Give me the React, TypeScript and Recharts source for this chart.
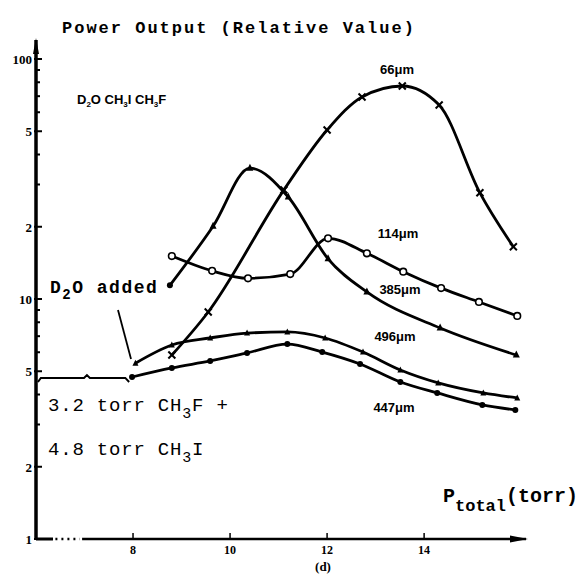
import React from "react"
import { LineChart, Line, XAxis, YAxis, ReferenceLine, ReferenceDot } from "recharts"

// before D2O was added (brace-like flat run)
const baseP = [6.04, 6.1, 6.99, 7.05, 7.11, 7.84, 7.92]
const baseV = [4.51, 4.69, 4.69, 4.82, 4.69, 4.69, 4.51]

const p66 = [8.8, 9.55, 11.11, 12.0, 12.72, 13.55, 14.31, 15.15, 15.84]
const v66 = [5.84, 8.83, 28.5, 50.6, 69.5, 77.2, 64.3, 27.7, 16.5]

const p114 = [8.8, 9.63, 10.37, 11.24, 12.02, 12.82, 13.57, 14.35, 15.13, 15.92]
const v114 = [15.1, 13.1, 12.2, 12.7, 17.9, 15.5, 13.0, 11.1, 9.72, 8.5]

const p385 = [8.76, 9.65, 10.41, 11.2, 12.02, 12.82, 14.33, 15.9]
const v385 = [11.4, 20.1, 35.1, 26.6, 14.7, 10.7, 7.57, 5.84]

const p496 = [8.05, 8.8, 9.59, 10.35, 11.18, 11.96, 12.74, 13.51, 14.29, 15.22, 15.92]
const v496 = [5.4, 6.43, 6.88, 7.21, 7.29, 6.88, 6.01, 5.06, 4.47, 4.06, 3.87]

const p447 = [7.98, 8.8, 9.59, 10.35, 11.18, 11.9, 12.68, 13.51, 14.27, 15.2, 15.88]
const v447 = [4.73, 5.16, 5.52, 5.96, 6.49, 6.01, 5.36, 4.51, 4.06, 3.62, 3.45]

const xTicks = [8, 10, 12, 14]
const yTicks = [1, 2, 3, 4, 5, 6, 7, 8, 9, 10, 20, 30, 40, 50, 60, 70, 80, 90, 100]
const yLabels: Record<number, string> = { 1: "1", 2: "2", 5: "5", 10: "10", 20: "2", 50: "5", 100: "100" }

const toPoints = (xs: number[], ys: number[]) => xs.map((x, i) => ({ x, y: ys[i] }))

const mono = "'Liberation Mono', 'DejaVu Sans Mono', monospace"
const sans = "'Liberation Sans', Arial, sans-serif"
const serif = "'Liberation Serif', 'DejaVu Serif', serif"

const crossDot = (p: any) => (
	<g key={`x${p.index}`}>
		<line x1={p.cx - 3.5} y1={p.cy - 3.5} x2={p.cx + 3.5} y2={p.cy + 3.5} stroke="#000" strokeWidth={2} />
		<line x1={p.cx - 3.5} y1={p.cy + 3.5} x2={p.cx + 3.5} y2={p.cy - 3.5} stroke="#000" strokeWidth={2} />
	</g>
)
const openDot = (p: any) => (
	<circle key={`o${p.index}`} cx={p.cx} cy={p.cy} r={3.3} fill="#fff" stroke="#000" strokeWidth={1.6} />
)
const triDot = (p: any) =>
	p.index === 0 ? (
		<circle key={`t${p.index}`} cx={p.cx} cy={p.cy} r={3} fill="#000" />
	) : (
		<polygon
			key={`t${p.index}`}
			points={`${p.cx},${p.cy - 4.5} ${p.cx - 3.5},${p.cy + 2.5} ${p.cx + 3.5},${p.cy + 2.5}`}
			fill="#000"
		/>
	)
const smallTri = (p: any) => (
	<polygon
		key={`s${p.index}`}
		points={`${p.cx},${p.cy - 3.5} ${p.cx - 3},${p.cy + 2.5} ${p.cx + 3},${p.cy + 2.5}`}
		fill="#000"
	/>
)
const fillDot = (p: any) => <circle key={`f${p.index}`} cx={p.cx} cy={p.cy} r={3} fill="#000" />

const YTick = (props: any) => {
	const { x, y, payload } = props
	const label = yLabels[payload.value]
	return (
		<g>
			<line x1={x - (label ? 2 : 0)} y1={y} x2={x + (label ? 6 : 4)} y2={y} stroke="#000" strokeWidth={2} />
			{label && (
				<text x={x - 4} y={y + 5} textAnchor="end" fontFamily={serif} fontWeight="bold" fontSize={13} fill="#000">
					{label}
				</text>
			)}
		</g>
	)
}

const XTick = (props: any) => {
	const { x, y, payload } = props
	return (
		<g>
			<line x1={x} y1={y - 6} x2={x} y2={y} stroke="#000" strokeWidth={1.5} />
			<text x={x} y={y + 15} textAnchor="middle" fontFamily={serif} fontWeight="bold" fontSize={12} fill="#000">
				{payload.value}
			</text>
		</g>
	)
}

export default function App() {
	const lineProps = { type: "monotone" as const, stroke: "#000", strokeWidth: 2.8, isAnimationActive: false }
	return (
		<div style={{ position: "relative", width: 579, height: 569, background: "#fff" }}>
			<LineChart width={579} height={569} margin={{ top: 32, right: 61, left: 0, bottom: 0 }}>
				<XAxis
					type="number"
					dataKey="x"
					domain={[6, 16.1]}
					ticks={xTicks}
					axisLine={false}
					tickLine={false}
					tickSize={0}
					tickMargin={0}
					height={38}
					tick={(p: any) => <XTick {...p} />}
					allowDataOverflow
				/>
				<YAxis
					type="number"
					dataKey="y"
					scale="log"
					domain={[1, 120]}
					ticks={yTicks}
					interval={0}
					width={28}
					axisLine={{ stroke: "#000", strokeWidth: 3.5 }}
					tickLine={false}
					tickSize={0}
					tickMargin={0}
					tick={(p: any) => <YTick {...p} />}
					allowDataOverflow
				/>
				<ReferenceLine segment={[{ x: 6, y: 1 }, { x: 6.35, y: 1 }]} stroke="#000" strokeWidth={3} ifOverflow="visible" />
				<ReferenceLine
					segment={[{ x: 6.4, y: 1 }, { x: 6.9, y: 1 }]}
					stroke="#000"
					strokeWidth={2.5}
					strokeDasharray="2 4"
					ifOverflow="visible"
				/>
				<ReferenceLine segment={[{ x: 6.95, y: 1 }, { x: 16.1, y: 1 }]} stroke="#000" strokeWidth={2.5} ifOverflow="visible" />
				<ReferenceDot
					x={16.1}
					y={1}
					ifOverflow="visible"
					shape={(p: any) => (
						<polygon points={`${p.cx + 2},${p.cy} ${p.cx - 16},${p.cy - 3.5} ${p.cx - 16},${p.cy + 3.5}`} fill="#000" />
					)}
				/>
				<ReferenceDot
					x={6}
					y={120}
					ifOverflow="visible"
					shape={(p: any) => (
						<polygon points={`${p.cx},${p.cy - 2} ${p.cx - 3},${p.cy + 14} ${p.cx + 3},${p.cy + 14}`} fill="#000" />
					)}
				/>
				<Line data={toPoints(baseP, baseV)} dataKey="y" {...lineProps} type="linear" strokeWidth={2} dot={false} />
				<Line data={toPoints(p66, v66)} dataKey="y" {...lineProps} dot={crossDot} />
				<Line data={toPoints(p114, v114)} dataKey="y" {...lineProps} dot={openDot} />
				<Line data={toPoints(p385, v385)} dataKey="y" {...lineProps} dot={triDot} />
				<Line data={toPoints(p496, v496)} dataKey="y" {...lineProps} dot={smallTri} />
				<Line data={toPoints(p447, v447)} dataKey="y" {...lineProps} dot={fillDot} />
			</LineChart>
			<svg
				width={579}
				height={569}
				style={{ position: "absolute", left: 0, top: 0, pointerEvents: "none" }}
			>
				<text x={54} y={25} fontFamily={mono} fontWeight="bold" fontSize={17} letterSpacing={2} fill="#000">
					Power Output (Relative Value)
				</text>
				<text x={69} y={96} fontFamily={sans} fontWeight="bold" fontSize={13} fill="#000">
					D<tspan fontSize={8} dy={3}>2</tspan>
					<tspan dy={-3}>O CH</tspan>
					<tspan fontSize={8} dy={3}>3</tspan>
					<tspan dy={-3}>I  CH</tspan>
					<tspan fontSize={8} dy={3}>3</tspan>
					<tspan dy={-3}>F</tspan>
				</text>
				<g fontFamily={sans} fontWeight="bold" fontSize={13} fill="#000" textAnchor="middle">
					<text x={389} y={66}>66μm</text>
					<text x={390} y={230}>114μm</text>
					<text x={392} y={286}>385μm</text>
					<text x={387} y={333}>496μm</text>
					<text x={386} y={404}>447μm</text>
				</g>
				<text x={42} y={285} fontFamily={mono} fontWeight="bold" fontSize={18} letterSpacing={1.5} fill="#000">
					D<tspan fontSize={14} dy={6}>2</tspan>
					<tspan dy={-6}>O added</tspan>
				</text>
				<line x1={110} y1={302} x2={123} y2={351} stroke="#000" strokeWidth={1.8} />
				<text x={40} y={403} fontFamily={mono} fontSize={19} letterSpacing={0.8} fill="#000">
					3.2 torr CH<tspan fontSize={15} dy={7}>3</tspan>
					<tspan dy={-7}>F +</tspan>
				</text>
				<text x={40} y={447} fontFamily={mono} fontSize={19} letterSpacing={0.8} fill="#000">
					4.8 torr CH<tspan fontSize={15} dy={7}>3</tspan>
					<tspan dy={-7}>I</tspan>
				</text>
				<text x={435} y={494} fontFamily={mono} fontWeight="bold" fontSize={20} fill="#000">
					P<tspan fontSize={17} dy={9}>total</tspan>
					<tspan dy={-9}>(torr)</tspan>
				</text>
				<text x={315} y={563} textAnchor="middle" fontFamily={serif} fontWeight="bold" fontSize={13} fill="#000">
					(d)
				</text>
			</svg>
		</div>
	)
}
